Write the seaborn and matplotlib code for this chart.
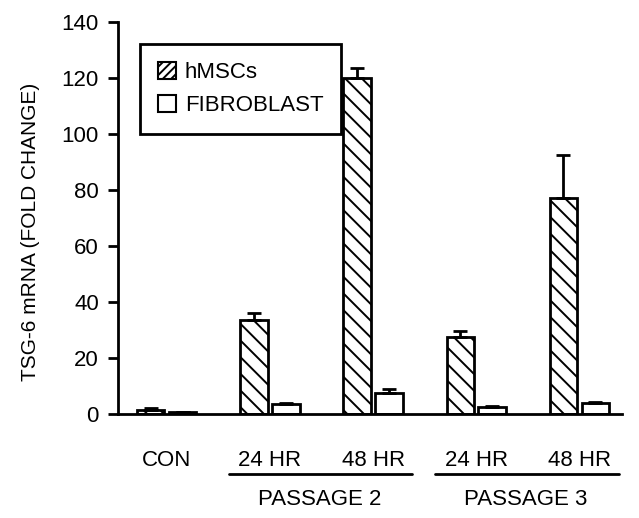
import matplotlib
matplotlib.use("Agg")
import matplotlib.pyplot as plt
import matplotlib.transforms as mtransforms
from matplotlib.patches import Patch
import seaborn as sns
import pandas as pd
import numpy as np

# ---- data ----
conditions = ["CON", "P2 24 HR", "P2 48 HR", "P3 24 HR", "P3 48 HR"]
tick_labels = ["CON", "24 HR", "48 HR", "24 HR", "48 HR"]
cell_types = ["hMSCs", "FIBROBLAST"]
hmsc_values = [1.5, 33.6, 120.0, 27.6, 77.0]
hmsc_errors = [0.6, 2.5, 3.5, 2.2, 15.6]
fibro_values = [0.5, 3.6, 7.6, 2.5, 3.8]
fibro_errors = [0.2, 0.3, 1.4, 0.3, 0.3]
passage_labels = ["PASSAGE 2", "PASSAGE 3"]
passage_members = [[1, 2], [3, 4]]
y_ticks = [0, 20, 40, 60, 80, 100, 120, 140]

df = pd.DataFrame({
    "condition": conditions * 2,
    "type": [cell_types[0]] * len(conditions) + [cell_types[1]] * len(conditions),
    "value": hmsc_values + fibro_values,
})

sns.set_style("white")
plt.rcParams["font.family"] = ["Liberation Sans Narrow", "Liberation Sans", "DejaVu Sans"]
plt.rcParams["hatch.linewidth"] = 1.4
plt.rcParams["hatch.color"] = "black"
for k in ["text.color", "axes.labelcolor", "xtick.color", "ytick.color"]:
    plt.rcParams[k] = "black"

FS = 16
fig = plt.figure(figsize=(6.39, 5.18), dpi=100)
ax = fig.add_axes([0.185, 0.201, 0.788, 0.756])

sns.barplot(data=df, x="condition", y="value", hue="type", order=conditions,
            hue_order=cell_types, palette={"hMSCs": "white", "FIBROBLAST": "white"},
            width=0.62, gap=0.14, errorbar=None, legend=False,
            edgecolor="black", linewidth=2, ax=ax)

errs = [hmsc_errors, fibro_errors]
vals = [hmsc_values, fibro_values]
bar_containers = list(ax.containers)
for ci, cont in enumerate(bar_containers):
    for bi, bar in enumerate(cont.patches):
        if ci == 0:
            bar.set_hatch("\\\\")
        xc = bar.get_x() + bar.get_width() / 2
        ax.errorbar([xc], [vals[ci][bi]], yerr=[[0], [errs[ci][bi]]],
                    fmt="none", ecolor="black", elinewidth=2, capsize=5,
                    capthick=2, zorder=1)

ax.set_ylim(0, 140)
ax.set_xlim(-0.47, 4.41)
ax.set_yticks(y_ticks)
ax.set_yticklabels([str(t) for t in y_ticks], fontsize=FS)
ax.set_xticks(range(len(conditions)))
ax.set_xticklabels(tick_labels, fontsize=FS)
ax.tick_params(axis="x", length=0, pad=26)
ax.tick_params(axis="y", length=7, width=2, direction="out", pad=7, left=True)
ax.set_xlabel("")
ax.set_ylabel("TSG-6 mRNA (FOLD CHANGE)", fontsize=15)
ax.yaxis.set_label_coords(-0.155, 0.464)

for s in ["top", "right"]:
    ax.spines[s].set_visible(False)
for s in ["left", "bottom"]:
    ax.spines[s].set_linewidth(2)
    ax.spines[s].set_color("black")

trans = mtransforms.blended_transform_factory(ax.transData, ax.transAxes)
for lab, mem in zip(passage_labels, passage_members):
    mid = np.mean(mem)
    ax.plot([mid - 0.9, mid + 0.88], [-0.153, -0.153], transform=trans,
            color="black", lw=2, clip_on=False)
    ax.text(mid - 0.02, -0.218, lab, transform=trans, ha="center", va="center",
            fontsize=FS)

handles = [Patch(facecolor="white", edgecolor="black", hatch="////", lw=1.5, label=cell_types[0]),
           Patch(facecolor="white", edgecolor="black", lw=1.5, label=cell_types[1])]
leg = ax.legend(handles=handles, loc="upper left", bbox_to_anchor=(0.044, 0.945),
                fontsize=FS, frameon=True, fancybox=False, framealpha=1,
                handlelength=0.8, handleheight=0.8, handletextpad=0.4,
                borderpad=0.8, labelspacing=0.55, borderaxespad=0)
leg.get_frame().set_edgecolor("black")
leg.get_frame().set_linewidth(2)

fig.savefig("out.png", dpi=100)
